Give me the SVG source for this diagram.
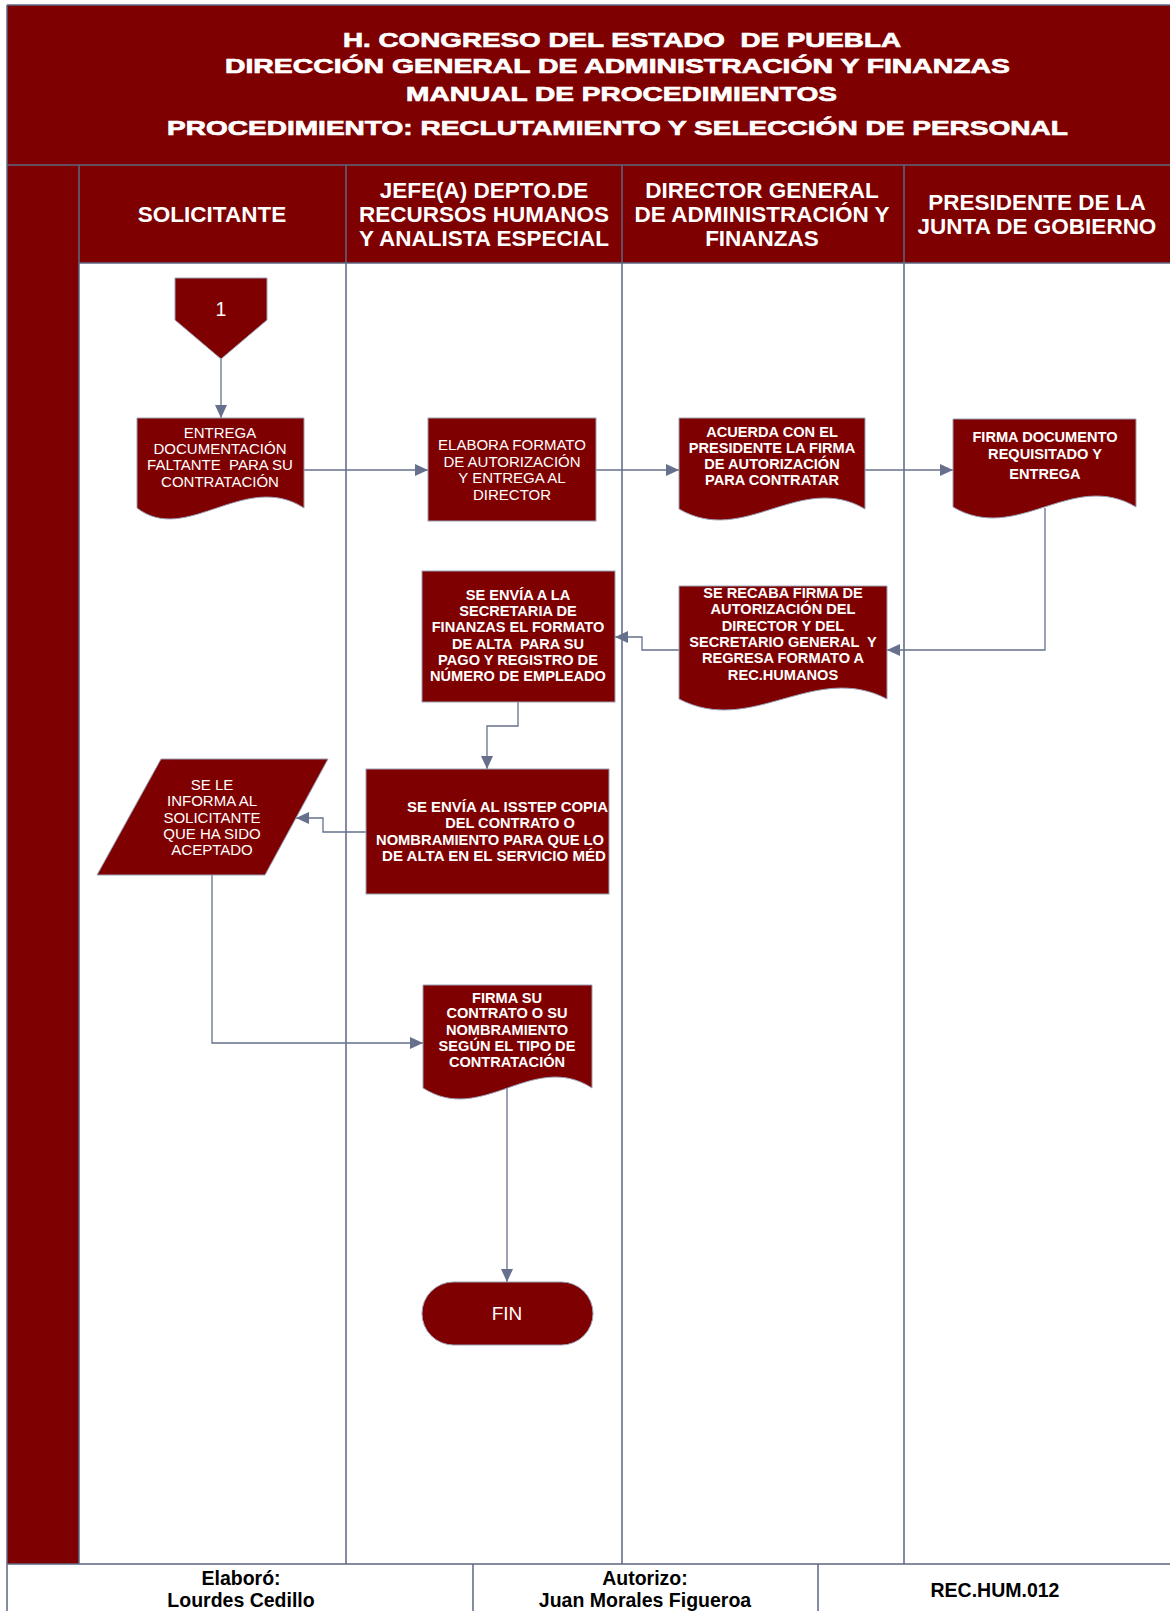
<svg xmlns="http://www.w3.org/2000/svg" width="1170" height="1611" viewBox="0 0 1170 1611">
<style>
text{white-space:pre}
.hd{font-family:"Liberation Sans",Arial,sans-serif;font-weight:bold;fill:#fff;stroke:#fff;stroke-width:0.7;font-size:21px;text-anchor:middle}
.lh{font-family:"Liberation Sans",Arial,sans-serif;font-weight:bold;fill:#fff;font-size:22.5px;text-anchor:middle}
.ft{font-family:"Liberation Sans",Arial,sans-serif;font-weight:bold;fill:#000;font-size:19.5px;text-anchor:middle}
.tr{font-family:"Liberation Sans",Arial,sans-serif;fill:#fff;font-size:15px;text-anchor:middle}
.tb{font-family:"Liberation Sans",Arial,sans-serif;font-weight:bold;fill:#fff;font-size:14.6px;text-anchor:middle}
.shape{fill:#7f0000;stroke:#9aa0b6;stroke-width:1}
.lane{stroke:#5d6682;stroke-width:1.5;fill:none}
.con{stroke:#66708c;stroke-width:1.3;fill:none;marker-end:url(#arr)}
</style>
<defs>
<marker id="arr" markerUnits="userSpaceOnUse" markerWidth="14" markerHeight="12" refX="13" refY="6" orient="auto">
<path d="M0,0 L13,6 L0,12 Z" fill="#66708c"/>
</marker>
<clipPath id="clipIss"><rect x="366" y="769" width="243" height="125"/></clipPath>
</defs>

<g id="frame">
<rect x="7" y="5" width="1170" height="160" fill="#7f0000"/>
<rect x="7" y="165" width="1170" height="98" fill="#7f0000"/>
<rect x="7" y="263" width="72" height="1301" fill="#7f0000"/>
<rect x="79" y="263" width="1100" height="1301" fill="#fff"/>
<line x1="7" y1="5" x2="1170" y2="5" class="lane"/>
<line x1="7" y1="5" x2="7" y2="1611" class="lane"/>
<line x1="7" y1="165" x2="1170" y2="165" class="lane"/>
<line x1="79" y1="165" x2="79" y2="1564" class="lane"/>
<line x1="79" y1="263" x2="1170" y2="263" class="lane"/>
<line x1="346" y1="165" x2="346" y2="1564" class="lane"/>
<line x1="622" y1="165" x2="622" y2="1564" class="lane"/>
<line x1="904" y1="165" x2="904" y2="1564" class="lane"/>
<line x1="7" y1="1564" x2="1170" y2="1564" class="lane"/>
<line x1="473" y1="1564" x2="473" y2="1611" class="lane"/>
<line x1="818" y1="1564" x2="818" y2="1611" class="lane"/>
</g>

<g id="title">
<text class="hd" x="622" y="47" textLength="558" lengthAdjust="spacingAndGlyphs">H. CONGRESO DEL ESTADO  DE PUEBLA</text>
<text class="hd" x="617.5" y="73" textLength="785" lengthAdjust="spacingAndGlyphs">DIRECCIÓN GENERAL DE ADMINISTRACIÓN Y FINANZAS</text>
<text class="hd" x="621.5" y="101" textLength="431" lengthAdjust="spacingAndGlyphs">MANUAL DE PROCEDIMIENTOS</text>
<text class="hd" x="617.5" y="135" textLength="901" lengthAdjust="spacingAndGlyphs">PROCEDIMIENTO: RECLUTAMIENTO Y SELECCIÓN DE PERSONAL</text>
</g>

<g id="lane-headers">
<text class="lh" x="212" y="222">SOLICITANTE</text>
<text class="lh" x="484" y="198">JEFE(A) DEPTO.DE</text>
<text class="lh" x="484" y="222">RECURSOS HUMANOS</text>
<text class="lh" x="484" y="246">Y ANALISTA ESPECIAL</text>
<text class="lh" x="762" y="198">DIRECTOR GENERAL</text>
<text class="lh" x="762" y="222">DE ADMINISTRACIÓN Y</text>
<text class="lh" x="762" y="246">FINANZAS</text>
<text class="lh" x="1037" y="210">PRESIDENTE DE LA</text>
<text class="lh" x="1037" y="234">JUNTA DE GOBIERNO</text>
</g>

<g id="connectors">
<path class="con" d="M221,359 V418"/>
<path class="con" d="M304,470 H428"/>
<path class="con" d="M596,470 H679"/>
<path class="con" d="M865,470 H953"/>
<path class="con" d="M1045,508 V650 H887"/>
<path class="con" d="M679,650 H642 V637 H615"/>
<path class="con" d="M518,702 V726 H487 V769"/>
<path class="con" d="M366,832 H323 V818 H296"/>
<path class="con" d="M212,875 V1043 H423"/>
<path class="con" d="M507,1088 V1282"/>
</g>

<g id="n1">
<polygon class="shape" points="175,278 267,278 267,320 221,359 175,320"/>
<text class="tr" x="221" y="316" style="font-size:19.5px">1</text>
</g>

<g id="n2">
<path class="shape" d="M137,418 H304 V508 C245,470 186,546 137,508 Z"/>
<text class="tr" x="220" y="437.5">ENTREGA</text>
<text class="tr" x="220" y="453.5">DOCUMENTACIÓN</text>
<text class="tr" x="220" y="469.5">FALTANTE  PARA SU</text>
<text class="tr" x="220" y="486.5">CONTRATACIÓN</text>
</g>

<g id="n3">
<rect class="shape" x="428" y="418" width="168" height="103"/>
<text class="tr" x="512" y="449.5">ELABORA FORMATO</text>
<text class="tr" x="512" y="466.5">DE AUTORIZACIÓN</text>
<text class="tr" x="512" y="482.5">Y ENTREGA AL</text>
<text class="tr" x="512" y="499.5">DIRECTOR</text>
</g>

<g id="n4">
<path class="shape" d="M679,418 H865 V509 C800,471 744,547 679,509 Z"/>
<text class="tb" x="772" y="437">ACUERDA CON EL</text>
<text class="tb" x="772" y="453">PRESIDENTE LA FIRMA</text>
<text class="tb" x="772" y="469">DE AUTORIZACIÓN</text>
<text class="tb" x="772" y="485">PARA CONTRATAR</text>
</g>

<g id="n5">
<path class="shape" d="M953,419 H1136 V507 C1072,469 1017,545 953,507 Z"/>
<text class="tb" x="1045" y="442">FIRMA DOCUMENTO</text>
<text class="tb" x="1045" y="459">REQUISITADO Y</text>
<text class="tb" x="1045" y="479">ENTREGA</text>
</g>

<g id="n6">
<path class="shape" d="M679,586 H887 V699 C814,661 752,737 679,699 Z"/>
<text class="tb" x="783" y="598">SE RECABA FIRMA DE</text>
<text class="tb" x="783" y="614">AUTORIZACIÓN DEL</text>
<text class="tb" x="783" y="631">DIRECTOR Y DEL</text>
<text class="tb" x="783" y="647">SECRETARIO GENERAL  Y</text>
<text class="tb" x="783" y="663">REGRESA FORMATO A</text>
<text class="tb" x="783" y="680">REC.HUMANOS</text>
</g>

<g id="n7">
<rect class="shape" x="422" y="571" width="193" height="131"/>
<text class="tb" x="518" y="600">SE ENVÍA A LA</text>
<text class="tb" x="518" y="616">SECRETARIA DE</text>
<text class="tb" x="518" y="632">FINANZAS EL FORMATO</text>
<text class="tb" x="518" y="649">DE ALTA  PARA SU</text>
<text class="tb" x="518" y="665">PAGO Y REGISTRO DE</text>
<text class="tb" x="518" y="681">NÚMERO DE EMPLEADO</text>
</g>

<g id="n8">
<rect class="shape" x="366" y="769" width="243" height="125"/>
<g clip-path="url(#clipIss)">
<text class="tb" x="407" y="812" style="text-anchor:start" textLength="201" lengthAdjust="spacingAndGlyphs">SE ENVÍA AL ISSTEP COPIA</text>
<text class="tb" x="510" y="828">DEL CONTRATO O</text>
<text class="tb" x="376" y="845" style="text-anchor:start" textLength="228" lengthAdjust="spacingAndGlyphs">NOMBRAMIENTO PARA QUE LO</text>
<text class="tb" x="382" y="861" style="text-anchor:start" textLength="224" lengthAdjust="spacingAndGlyphs">DE ALTA EN EL SERVICIO MÉD</text>
</g>
</g>

<g id="n9">
<polygon class="shape" points="161,759 328,759 265,875 97,875"/>
<text class="tr" x="212" y="789.5">SE LE</text>
<text class="tr" x="212" y="805.5">INFORMA AL</text>
<text class="tr" x="212" y="822.5">SOLICITANTE</text>
<text class="tr" x="212" y="838.5">QUE HA SIDO</text>
<text class="tr" x="212" y="854.5">ACEPTADO</text>
</g>

<g id="n10">
<path class="shape" d="M423,985 H592 V1088 C533,1050 482,1126 423,1088 Z"/>
<text class="tb" x="507" y="1003">FIRMA SU</text>
<text class="tb" x="507" y="1018">CONTRATO O SU</text>
<text class="tb" x="507" y="1035">NOMBRAMIENTO</text>
<text class="tb" x="507" y="1051">SEGÚN EL TIPO DE</text>
<text class="tb" x="507" y="1067">CONTRATACIÓN</text>
</g>

<g id="n11">
<rect class="shape" x="422" y="1282" width="171" height="63" rx="31.5" ry="31.5"/>
<text class="tr" x="507" y="1320" style="font-size:19px">FIN</text>
</g>

<g id="footer">
<text class="ft" x="241" y="1585">Elaboró:</text>
<text class="ft" x="241" y="1607">Lourdes Cedillo</text>
<text class="ft" x="645" y="1585">Autorizo:</text>
<text class="ft" x="645" y="1607">Juan Morales Figueroa</text>
<text class="ft" x="995" y="1597">REC.HUM.012</text>
</g>
</svg>
